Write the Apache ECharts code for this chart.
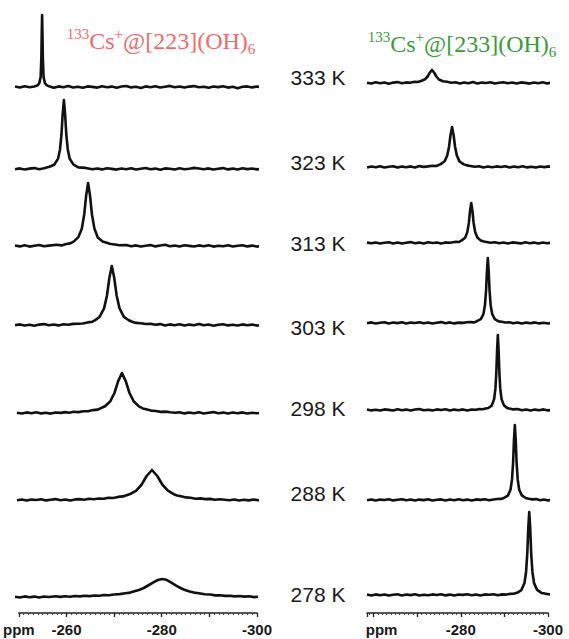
<!DOCTYPE html>
<html>
<head>
<meta charset="utf-8">
<script src="https://cdn.jsdelivr.net/npm/echarts@6/dist/echarts.min.js"></script>
<style>html,body{margin:0;padding:0;background:#fff;}#c{width:569px;height:639px;}</style>
</head>
<body>
<div id="c"></div>
<script>
// ---------------- DATA ----------------
const temperatures = ['333 K', '323 K', '313 K', '303 K', '298 K', '288 K', '278 K'];

const leftTitleParts = ['133', 'Cs', '+', '@[223](OH)', '6'];
const rightTitleParts = ['133', 'Cs', '+', '@[233](OH)', '6'];

const leftTickValues = [-250, -260, -270, -280, -290, -300];
const leftTickLabels = ['ppm', '-260', '', '-280', '', '-300'];
const rightTickValues = [-260, -270, -280, -290, -300];
const rightTickLabels = ['ppm', '', '-280', '', '-300'];

// [ppm, intensity] — left panel, [223](OH)6
const L333 = [[-250,0.4],[-251,-0.6],[-252,0.8],[-253,-0.3],[-254,0.5],[-254.6,1.4],[-255.0,3.6],[-255.3,10],[-255.45,30],[-255.52,52],[-255.6,72],[-255.68,52],[-255.75,30],[-255.9,10],[-256.2,3.6],[-256.6,1.6],[-257.2,0.4],[-258,-0.7],[-259,0.6],[-260,-0.2],[-261,0.9],[-262,-0.5],[-263,0.3],[-264,-0.8],[-265,0.6],[-266,0.1],[-267,-0.6],[-268,0.8],[-269,-0.3],[-270,0.4],[-271,-0.7],[-272,0.5],[-273,1.0],[-274,-0.4],[-275,0.2],[-276,-0.9],[-277,0.6],[-278,-0.2],[-279,0.7],[-280,-0.5],[-281,0.3],[-282,1.1],[-283,-0.2],[-284,0.5],[-285,-0.6],[-286,0.4],[-287,0.9],[-288,-0.3],[-289,0.2],[-290,-0.8],[-291,0.5],[-292,-0.1],[-293,0.7],[-294,-0.6],[-295,0.3],[-296,-1.2],[-297,0.2],[-298,0.6],[-299,-0.4],[-300,0.5],[-301,-0.3],[-302,0.4],[-302.6,-0.2]];
const L323 = [[-250,-0.3],[-251,0.6],[-252,-0.5],[-253,0.4],[-254,0.9],[-255,-0.2],[-256,0.7],[-257.1,2.2],[-258.1,4.3],[-258.9,10.4],[-259.3,19.5],[-259.6,34.5],[-259.85,55],[-260.1,69],[-260.35,55],[-260.6,34.5],[-260.9,19.8],[-261.3,10.2],[-262.1,4.4],[-263.1,1.6],[-264.6,1.1],[-266,-0.3],[-267,0.5],[-268,-0.4],[-269,0.8],[-270,0.1],[-271,-0.6],[-272,0.5],[-273,-0.2],[-274,0.7],[-275,-0.5],[-276,0.3],[-277,1.0],[-278,-0.3],[-279,0.4],[-280,-0.7],[-281,0.6],[-282,0.2],[-283,-0.5],[-284,0.8],[-285,-0.2],[-286,0.3],[-287,1.1],[-288,0.5],[-289,-0.3],[-290,0.6],[-291,-0.5],[-292,0.2],[-293,0.9],[-294,-0.4],[-295,0.4],[-296,-0.6],[-297,0.7],[-298,-0.1],[-299,0.5],[-300,-0.4],[-301,0.3],[-302,-0.2],[-302.6,0.3]];
const L313 = [[-250,0.5],[-251,-0.4],[-252,0.7],[-253,-0.6],[-254,0.3],[-255,1.0],[-256,-0.2],[-257,0.4],[-258.6,1.2],[-259.6,0.6],[-260.6,2.0],[-261.4,2.6],[-262.1,4.4],[-263.1,8.9],[-263.8,17.3],[-264.3,31.5],[-264.7,50.4],[-265.1,63],[-265.5,50.4],[-265.9,31.5],[-266.4,17.6],[-267.1,8.5],[-268.1,4.4],[-269.6,2.2],[-271.6,0.7],[-273,1.0],[-274,-0.3],[-275,0.6],[-276,-0.5],[-277,0.2],[-278,0.9],[-279,-0.4],[-280,0.5],[-281,1.2],[-282,-0.3],[-283,0.4],[-284,-0.6],[-285,0.7],[-286,0.1],[-287,-0.5],[-288,0.6],[-289,-0.2],[-290,0.8],[-291,-0.6],[-292,0.3],[-293,-0.3],[-294,0.7],[-295,-0.5],[-296,0.2],[-297,0.8],[-298,-0.4],[-299,0.4],[-300,-0.6],[-301,0.3],[-302,-0.3],[-302.3,0.2]];
const L303 = [[-250,-0.2],[-251,0.6],[-252,-0.5],[-253,0.3],[-254,-0.8],[-255,0.4],[-256,0.9],[-257,-0.3],[-258,0.5],[-259,-0.4],[-260,0.8],[-261,0.3],[-262,1.1],[-263,1.3],[-264,1.5],[-265,2.6],[-266,3.3],[-266.5,4.6],[-267.5,8.3],[-268.4,16.6],[-269,29.5],[-269.5,47.2],[-270,59],[-270.5,47.2],[-271,29.5],[-271.6,16.6],[-272.5,8.1],[-273.5,4.8],[-274.2,3.2],[-275,2.1],[-276,1.8],[-277,1.0],[-278,1.3],[-279,0.2],[-280,0.9],[-281,-0.4],[-282,0.6],[-283,-0.2],[-284,0.7],[-285,-0.6],[-286,0.4],[-287,-0.3],[-288,1.0],[-289,-0.2],[-290,0.5],[-291,-0.7],[-292,0.3],[-293,0.8],[-294,-0.4],[-295,0.2],[-296,-0.5],[-297,0.6],[-298,-0.2],[-299,0.4],[-300,-0.6],[-301,0.3],[-302,-0.1],[-302.3,0.4]];
const L298 = [[-250.4,0.3],[-251.4,-0.5],[-252.4,0.6],[-253.4,-0.2],[-254.4,0.8],[-255.4,-0.4],[-256.4,0.3],[-257.4,-0.6],[-258.4,0.5],[-259.4,0.1],[-260.4,0.9],[-261.2,0.2],[-262.1,1.2],[-263.1,0.9],[-264.1,1.7],[-265.1,1.8],[-266.1,2.9],[-267.1,3.4],[-268.6,6.8],[-269.7,11.8],[-270.55,20],[-271.3,31.6],[-272.1,40],[-272.9,31.6],[-273.65,20],[-274.5,11.8],[-275.6,6.6],[-276.4,4.6],[-277.1,3.7],[-278.1,2.4],[-279.1,2.0],[-280.1,1.1],[-281.1,1.4],[-282.1,0.7],[-283,0.2],[-284,0.8],[-285,-0.4],[-286,0.5],[-287,-0.3],[-288,0.7],[-289,-0.5],[-290,0.3],[-291,0.9],[-292,-0.3],[-293,0.4],[-294,-0.6],[-295,0.5],[-296,-0.2],[-297,0.6],[-298,-0.5],[-299,0.2],[-300,-0.3],[-301,0.4],[-301.6,-0.2]];
const L288 = [[-250.4,-0.3],[-251.4,0.5],[-252.4,-0.6],[-253.4,0.4],[-254.4,0.0],[-255.4,0.7],[-256.4,-0.4],[-257.4,0.3],[-258.4,0.9],[-259.4,-0.2],[-260.4,0.5],[-261.4,-0.5],[-262.4,0.6],[-263.3,0.9],[-264.3,0.3],[-265.3,1.2],[-266.3,0.8],[-267.3,1.5],[-268.3,1.3],[-269.3,2.2],[-270.3,2.0],[-271.3,3.1],[-272.3,3.6],[-273.8,6.0],[-275,9.2],[-276.1,15],[-277.2,24],[-278.3,30],[-279.4,24],[-280.5,15],[-281.6,9.4],[-282.8,5.8],[-283.5,4.6],[-284.3,3.8],[-285.3,2.6],[-286.3,2.2],[-287.3,1.3],[-288.3,1.6],[-289.3,0.9],[-290.3,1.1],[-291.3,0.2],[-292.3,0.7],[-293.3,0.3],[-294.3,-0.2],[-295.3,0.5],[-296.3,-0.5],[-297.3,0.3],[-298.3,-0.4],[-299.3,0.5],[-300.3,-0.3],[-301.3,0.2],[-302.3,-0.5],[-302.7,0.0]];
const L278 = [[-250,0.2],[-251,-0.5],[-252,0.6],[-253,-0.2],[-254,0.4],[-255,-0.6],[-256,0.5],[-257,0.0],[-258.4,0.8],[-259.4,0.1],[-260.4,0.7],[-261.4,0.3],[-262.4,1.0],[-263.4,0.6],[-264.4,1.2],[-265.4,0.9],[-266.4,1.5],[-267.4,1.3],[-268.4,2.0],[-269.4,1.8],[-270.4,2.5],[-271.6,2.9],[-272.8,3.8],[-273.8,4.4],[-274.7,5.7],[-275.6,7.0],[-276.6,9],[-277.5,11.5],[-278.5,14.4],[-279.5,17],[-280.4,18],[-281.3,17.2],[-282.3,14.4],[-283.2,11.6],[-284.2,9],[-285.1,7.0],[-286.1,5.5],[-287,4.4],[-288,3.8],[-289.2,2.7],[-290.4,2.5],[-291.4,1.6],[-292.4,1.8],[-293.4,1.1],[-294.4,1.3],[-295.4,0.6],[-296.4,1.0],[-297.4,0.4],[-298.4,0.7],[-299.4,-0.1],[-300.2,0.3]];

// [ppm, intensity] — right panel, [233](OH)6
const R333 = [[-258.5,0.3],[-259.5,-0.6],[-260.5,0.7],[-261.5,-0.2],[-262.5,0.5],[-263.5,-0.7],[-264.5,0.4],[-265.5,0.9],[-266.5,-0.3],[-267.5,0.6],[-268.4,0.2],[-269.4,1.2],[-270.1,1.0],[-270.9,2.0],[-271.8,3.7],[-272.4,6.5],[-272.9,10.4],[-273.4,13],[-273.9,10.4],[-274.4,6.5],[-275,3.5],[-275.9,1.8],[-276.9,1.2],[-277.8,0.3],[-278.8,0.8],[-279.8,-0.4],[-280.8,0.5],[-281.8,-0.2],[-282.8,0.9],[-283.8,-0.5],[-284.8,0.4],[-285.8,0.0],[-286.8,0.7],[-287.8,-0.6],[-288.8,0.3],[-289.8,0.8],[-290.8,-0.3],[-291.8,0.5],[-292.8,-0.5],[-293.8,0.6],[-294.8,0.1],[-295.8,-0.6],[-296.8,0.5],[-297.8,-0.2],[-298.8,0.7],[-299.8,-0.4],[-300.8,0.3],[-301.3,-0.2]];
const R323 = [[-258.5,-0.4],[-259.5,0.5],[-260.5,-0.3],[-261.5,0.8],[-262.5,-0.5],[-263.5,0.3],[-264.5,0.7],[-265.5,-0.6],[-266.5,0.4],[-267.5,-0.2],[-268.5,0.6],[-269.5,-0.5],[-270.5,0.9],[-271.5,0.1],[-272.5,0.6],[-273.5,1.3],[-274.4,1.0],[-275.4,2.9],[-276.3,5.8],[-276.9,11.5],[-277.3,20],[-277.65,32],[-278,40],[-278.35,32],[-278.7,20],[-279.1,11.5],[-279.7,5.6],[-280.6,2.9],[-281.4,1.6],[-282.2,1.0],[-283.2,0.2],[-284.2,0.8],[-285.2,-0.4],[-286.2,0.5],[-287.2,-0.3],[-288.2,0.6],[-289.2,0.0],[-290.2,0.7],[-291.2,-0.5],[-292.2,0.4],[-293.2,-0.2],[-294.2,0.8],[-295.2,-0.4],[-296.2,0.3],[-297.2,-0.6],[-298.2,0.5],[-299.2,-0.1],[-300.2,0.6],[-301.2,-0.3]];
const R313 = [[-258.5,0.4],[-259.5,-0.3],[-260.5,0.6],[-261.5,-0.5],[-262.5,0.2],[-263.5,0.8],[-264.5,-0.4],[-265.5,0.5],[-266.5,-0.6],[-267.5,0.3],[-268.5,0.9],[-269.5,-0.2],[-270.5,0.4],[-271.5,-0.5],[-272.5,0.7],[-273.5,0.0],[-274.5,0.5],[-275.5,-0.4],[-276.5,0.6],[-277.5,0.3],[-278.9,1.2],[-279.6,1.0],[-280.2,2.6],[-281,5.3],[-281.5,10.9],[-281.85,20],[-282.12,31.8],[-282.4,40],[-282.68,31.8],[-282.95,20],[-283.3,10.9],[-283.8,5.5],[-284.6,2.4],[-285.3,1.5],[-285.9,1.0],[-286.8,0.3],[-287.8,0.8],[-288.8,-0.3],[-289.8,0.5],[-290.8,-0.5],[-291.8,0.6],[-292.8,0.1],[-293.8,-0.4],[-294.8,0.7],[-295.8,-0.2],[-296.8,0.4],[-297.8,-0.6],[-298.8,0.5],[-299.8,-0.2],[-300.8,0.3],[-301.3,-0.3]];
const R303 = [[-258.5,-0.2],[-259.5,0.6],[-260.5,-0.5],[-261.5,0.3],[-262.5,0.8],[-263.5,-0.4],[-264.5,0.5],[-265.5,-0.1],[-266.5,0.7],[-267.5,-0.6],[-268.5,0.4],[-269.5,0.0],[-270.5,0.8],[-271.5,-0.3],[-272.5,0.5],[-273.5,-0.5],[-274.5,0.3],[-275.5,0.9],[-276.5,-0.2],[-277.5,0.6],[-278.5,-0.4],[-279.5,0.4],[-280.5,0.1],[-281.4,0.7],[-282.2,0.9],[-283.1,0.6],[-283.7,1.8],[-284.6,3.8],[-285.2,9],[-285.55,17.9],[-285.8,32.5],[-286,52],[-286.2,65],[-286.4,52],[-286.6,32.5],[-286.85,17.9],[-287.2,9],[-287.8,3.9],[-288.7,1.6],[-289.4,1.2],[-290.2,0.5],[-291.1,0.8],[-292,-0.3],[-293,0.5],[-294,-0.5],[-295,0.4],[-296,-0.2],[-297,0.6],[-298,-0.4],[-299,0.3],[-300,-0.5],[-301,0.2],[-301.4,-0.2]];
const R298 = [[-258.5,0.5],[-259.5,-0.4],[-260.5,0.3],[-261.5,-0.6],[-262.5,0.6],[-263.5,0.1],[-264.5,-0.5],[-265.5,0.7],[-266.5,-0.2],[-267.5,0.4],[-268.5,-0.6],[-269.5,0.5],[-270.5,0.9],[-271.5,-0.3],[-272.5,0.3],[-273.5,-0.4],[-274.5,0.6],[-275.5,0.0],[-276.5,0.8],[-277.5,-0.5],[-278.5,0.4],[-279.5,-0.2],[-280.5,0.6],[-281.5,-0.4],[-282.5,0.5],[-283.5,0.2],[-284.3,0.9],[-285,0.7],[-285.7,1.4],[-286.3,2.0],[-287.1,4.4],[-287.65,10.9],[-287.95,21.6],[-288.15,37.5],[-288.33,60],[-288.5,75],[-288.67,60],[-288.85,37.5],[-289.05,21.6],[-289.35,10.9],[-289.9,4.6],[-290.7,1.9],[-291.4,1.3],[-292,0.6],[-293,0.9],[-294,-0.3],[-295,0.5],[-296,-0.5],[-297,0.4],[-298,-0.2],[-299,0.6],[-300,-0.4],[-301,0.3],[-301.4,-0.1]];
const R288 = [[-258.5,-0.3],[-259.5,0.5],[-260.5,-0.6],[-261.5,0.4],[-262.5,0.0],[-263.5,0.7],[-264.5,-0.4],[-265.5,0.3],[-266.5,0.8],[-267.5,-0.2],[-268.5,0.5],[-269.5,-0.5],[-270.5,0.4],[-271.5,-0.1],[-272.5,0.7],[-273.5,-0.6],[-274.5,0.3],[-275.5,0.6],[-276.5,-0.4],[-277.5,0.5],[-278.5,-0.2],[-279.5,0.8],[-280.5,-0.3],[-281.5,0.4],[-282.5,-0.5],[-283.5,0.6],[-284.5,0.1],[-285.5,0.7],[-286.5,-0.2],[-287.5,0.5],[-288.4,1.0],[-289.2,1.1],[-289.9,2.1],[-290.8,4.4],[-291.4,10.3],[-291.75,20.6],[-292,37.5],[-292.2,60],[-292.4,75],[-292.6,60],[-292.8,37.5],[-293.05,20.6],[-293.4,10.3],[-294,4.6],[-294.9,2.0],[-295.6,1.2],[-296.4,0.6],[-297.3,0.9],[-298.2,-0.2],[-299.1,0.5],[-300,-0.4],[-301,0.3],[-301.4,0.0]];
const R278 = [[-258.5,0.4],[-259.5,-0.5],[-260.5,0.6],[-261.5,-0.2],[-262.5,0.5],[-263.5,-0.6],[-264.5,0.3],[-265.5,0.8],[-266.5,-0.4],[-267.5,0.5],[-268.5,-0.1],[-269.5,0.7],[-270.5,-0.5],[-271.5,0.3],[-272.5,-0.3],[-273.5,0.6],[-274.5,0.0],[-275.5,0.8],[-276.5,-0.4],[-277.5,0.4],[-278.5,-0.6],[-279.5,0.5],[-280.5,0.1],[-281.5,0.7],[-282.5,-0.3],[-283.5,0.5],[-284.5,-0.5],[-285.5,0.6],[-286.5,0.2],[-287.5,0.8],[-288.5,-0.2],[-289.5,0.6],[-290.4,0.4],[-291.2,1.1],[-292.1,1.3],[-292.9,2.2],[-293.9,4.9],[-294.6,11.9],[-294.98,23.3],[-295.25,41.5],[-295.48,67],[-295.7,83],[-295.92,67],[-296.15,41.5],[-296.42,23.3],[-296.8,11.9],[-297.5,5.1],[-298.5,2.1],[-299.3,1.4],[-300.2,0.8],[-301,0.4],[-301.4,0.1]];

const leftSpectra = [L333, L323, L313, L303, L298, L288, L278];
const rightSpectra = [R333, R323, R313, R303, R298, R288, R278];

// ---------------- LAYOUT ----------------
const leftPanel = { left: 15, width: 242, min: -300, max: -250 };
const rightPanel = { left: 367, width: 181, min: -300, max: -258.5 };
const leftBaselines = [87, 169, 246, 325, 413, 500, 597];
const rightBaselines = [83, 167, 243, 323, 410, 500, 595];
const labelX = 318;
const labelYs = [77, 162, 243, 327, 408, 493, 594];
const axisY = 613;
const yTop = 75, yBottom = -5; // 1 unit = 1 px

const grids = [], xAxes = [], yAxes = [], series = [];
function addSpectra(panel, baselines, spectra) {
  spectra.forEach((d, i) => {
    const idx = grids.length;
    grids.push({ left: panel.left, width: panel.width, top: baselines[i] - yTop, height: yTop - yBottom });
    xAxes.push({ type: 'value', gridIndex: idx, min: panel.min, max: panel.max, inverse: true, show: false });
    yAxes.push({ type: 'value', gridIndex: idx, min: yBottom, max: yTop, show: false });
    series.push({
      type: 'line', xAxisIndex: idx, yAxisIndex: idx, data: d,
      symbol: 'none', showSymbol: false, clip: false, silent: true,
      lineStyle: { color: '#111', width: 2.6, join: 'round' }
    });
  });
}
addSpectra(leftPanel, leftBaselines, leftSpectra);
addSpectra(rightPanel, rightBaselines, rightSpectra);

function addAxis(panel, values, labels, ppmPad) {
  const idx = grids.length;
  grids.push({ left: panel.left, width: panel.width, top: axisY - 1, height: 1 });
  xAxes.push({
    type: 'value', gridIndex: idx, min: panel.min, max: panel.max, inverse: true,
    interval: 10, position: 'bottom',
    axisLine: { show: true, lineStyle: { color: '#222', width: 1.5 } },
    axisTick: { show: true, inside: false, length: 4, lineStyle: { color: '#222', width: 1.3 } },
    minorTick: { show: true, splitNumber: 10, length: 2, lineStyle: { color: '#444', width: 1 } },
    splitLine: { show: false }, minorSplitLine: { show: false },
    axisLabel: {
      show: true, margin: 9, fontSize: 15, fontWeight: 'bold', fontFamily: 'Liberation Sans', color: '#1a1a1a',
      formatter: function (v) {
        const k = values.findIndex(t => Math.abs(t - v) < 1e-6);
        if (k < 0) return '';
        const s = labels[k];
        if (s === 'ppm') return '{p|ppm}';
        return s;
      },
      rich: { p: { fontSize: 15, fontWeight: 'bold', fontFamily: 'Liberation Sans', color: '#1a1a1a', padding: [0, 0, 0, ppmPad] } }
    }
  });
  yAxes.push({ type: 'value', gridIndex: idx, min: 0, max: 1, show: false });
}
addAxis(leftPanel, leftTickValues, leftTickLabels, 0);
addAxis(rightPanel, rightTickValues, rightTickLabels, 16);

function titleText(parts) {
  return '{sup|' + parts[0] + '}{n|' + parts[1] + '}{sup|' + parts[2] + '}{n|' + parts[3] + '}{sub|' + parts[4] + '}';
}
function titleRich(color) {
  const f = 'Liberation Serif';
  return {
    n: { fontSize: 24, fontFamily: f, fill: color, color: color, lineHeight: 30, verticalAlign: 'middle' },
    sup: { fontSize: 15, fontFamily: f, fill: color, color: color, lineHeight: 30, verticalAlign: 'top' },
    sub: { fontSize: 15, fontFamily: f, fill: color, color: color, lineHeight: 30, verticalAlign: 'bottom' }
  };
}

const graphics = [];
temperatures.forEach((t, i) => {
  graphics.push({
    type: 'text', x: labelX, y: labelYs[i], silent: true,
    style: { text: t, fontSize: 21, fontFamily: 'Liberation Sans', fill: '#1a1a1a', align: 'center', verticalAlign: 'middle' }
  });
});
graphics.push({
  type: 'text', x: 161, y: 41, silent: true,
  style: { text: titleText(leftTitleParts), rich: titleRich('#ef6b6b'), fill: '#ef6b6b', align: 'center', verticalAlign: 'middle' }
});
graphics.push({
  type: 'text', x: 462, y: 44, silent: true,
  style: { text: titleText(rightTitleParts), rich: titleRich('#3a9a3a'), fill: '#3a9a3a', align: 'center', verticalAlign: 'middle' }
});

const chart = echarts.init(document.getElementById('c'), null, { renderer: 'svg', width: 569, height: 639 });
chart.setOption({
  backgroundColor: '#ffffff',
  animation: false,
  grid: grids,
  xAxis: xAxes,
  yAxis: yAxes,
  series: series,
  graphic: graphics
});
</script>
</body>
</html>
